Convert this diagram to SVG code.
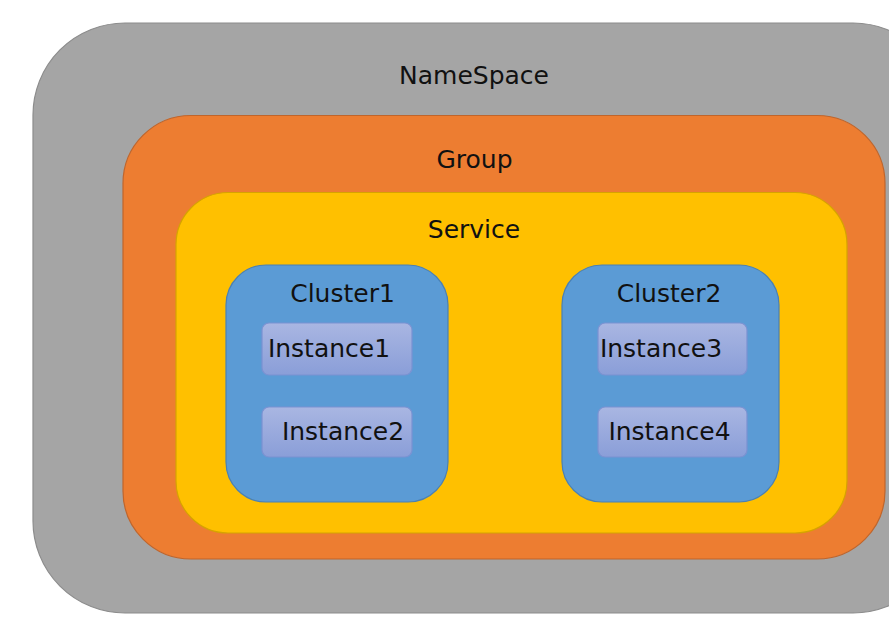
<svg xmlns="http://www.w3.org/2000/svg" width="889" height="631" viewBox="0 0 889 631">
<style>
text{font-family:"DejaVu Sans","Liberation Sans",sans-serif;font-size:25px;fill:#111;}
.ns{fill:#a5a5a5;stroke:#8c8c8c;stroke-width:1.2}
.grp{fill:#ed7d31;stroke:#c0652b;stroke-width:1.2}
.svc{fill:#ffc000;stroke:#d6a300;stroke-width:1.2}
.cl{fill:#5b9bd5;stroke:#4a80b4;stroke-width:1.2}
.inst{fill:url(#ig);stroke:#7a92d2;stroke-width:1.2}
</style>
<defs>
<linearGradient id="ig" x1="0" y1="0" x2="0" y2="1">
<stop offset="0" stop-color="#a9b6e2"/>
<stop offset="1" stop-color="#8a9ed8"/>
</linearGradient>
</defs>
<rect width="889" height="631" fill="#ffffff"/>
<g id="namespace">
<rect class="ns" x="33" y="23" width="912" height="590" rx="92" ry="92"/>
<text x="474" y="84" text-anchor="middle">NameSpace</text>
</g>
<g id="group">
<rect class="grp" x="123" y="115.5" width="762" height="443.5" rx="68" ry="68"/>
<text x="474.5" y="168" text-anchor="middle">Group</text>
</g>
<g id="service">
<rect class="svc" x="176" y="192.5" width="671" height="340.5" rx="52" ry="52"/>
<text x="474" y="238" text-anchor="middle">Service</text>
</g>
<g id="cluster1">
<rect class="cl" x="226" y="265" width="222" height="237" rx="40" ry="40"/>
<text x="342.5" y="302" text-anchor="middle">Cluster1</text>
</g>
<g id="cluster2">
<rect class="cl" x="562" y="265" width="217" height="237" rx="40" ry="40"/>
<text x="669" y="302" text-anchor="middle">Cluster2</text>
</g>
<g id="instance1">
<rect class="inst" x="262" y="323" width="150" height="52" rx="7" ry="7"/>
<text x="329" y="357" text-anchor="middle">Instance1</text>
</g>
<g id="instance2">
<rect class="inst" x="262" y="407" width="150" height="50" rx="7" ry="7"/>
<text x="343" y="440" text-anchor="middle">Instance2</text>
</g>
<g id="instance3">
<rect class="inst" x="598" y="323" width="149" height="52" rx="7" ry="7"/>
<text x="661" y="357" text-anchor="middle">Instance3</text>
</g>
<g id="instance4">
<rect class="inst" x="598" y="407" width="149" height="50" rx="7" ry="7"/>
<text x="669.5" y="440" text-anchor="middle">Instance4</text>
</g>
<g id="connectors"></g>
</svg>
